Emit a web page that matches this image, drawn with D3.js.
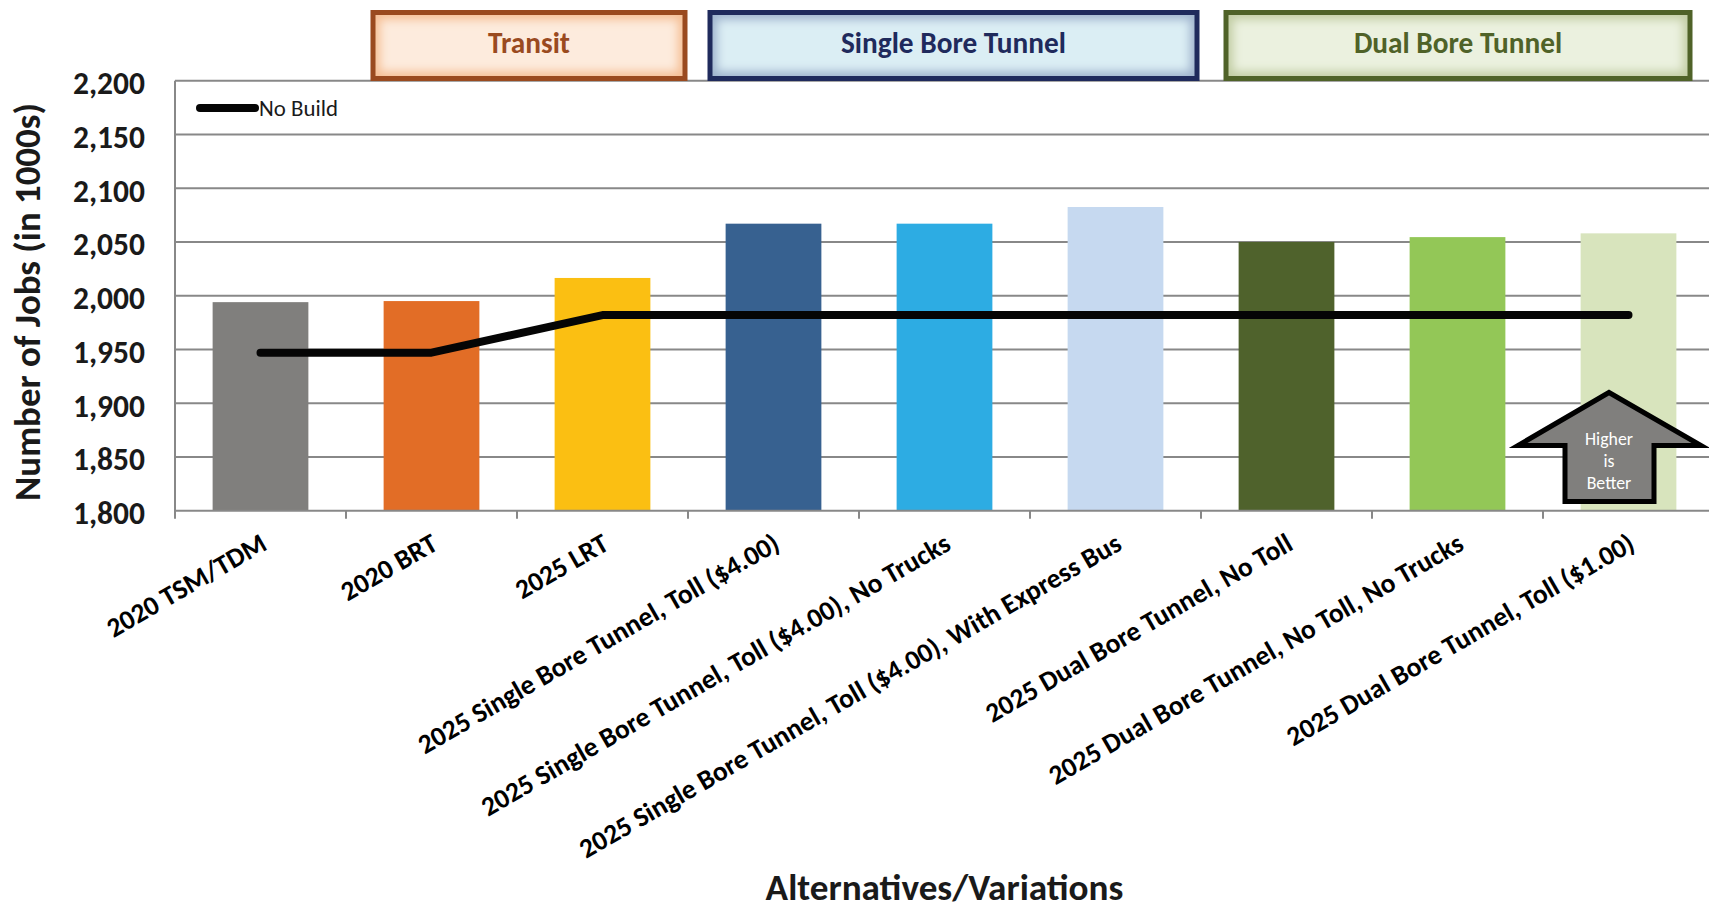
<!DOCTYPE html>
<html>
<head>
<meta charset="utf-8">
<script src="https://cdn.jsdelivr.net/npm/d3@7"></script>
<style>
  html, body { margin: 0; padding: 0; background: #ffffff; }
  svg { display: block; }
</style>
</head>
<body>
<svg id="chart" width="1709" height="911"></svg>
<script>
// ---- data ----
const categories = [
  "2020 TSM/TDM",
  "2020 BRT",
  "2025 LRT",
  "2025 Single Bore Tunnel, Toll ($4.00)",
  "2025 Single Bore Tunnel, Toll ($4.00), No Trucks",
  "2025 Single Bore Tunnel, Toll ($4.00), With Express Bus",
  "2025 Dual Bore Tunnel, No Toll",
  "2025 Dual Bore Tunnel, No Toll, No Trucks",
  "2025 Dual Bore Tunnel, Toll ($1.00)"
];
const jobs = [1994, 1995, 2016.5, 2067, 2067, 2082.5, 2050, 2054.5, 2058];
const noBuild = [1947, 1947, 1982, 1982, 1982, 1982, 1982, 1982, 1982];
const barColors = ["#807f7d", "#e26d26", "#fbbf12", "#376190", "#2dace3",
                   "#c6d9f0", "#4f622c", "#93c757", "#d8e4bd"];
const yTicks = [1800, 1850, 1900, 1950, 2000, 2050, 2100, 2150, 2200];
const groups = [
  { name: "Transit", x0: 373, x1: 685, border: "#9a4a1f", edge: "#f5bf95", fill: "#fdebdd", text: "#9a4a1f" },
  { name: "Single Bore Tunnel", x0: 710, x1: 1197, border: "#1f2a5c", edge: "#9fb3cd", fill: "#dbeef4", text: "#1f2a5c" },
  { name: "Dual Bore Tunnel", x0: 1226, x1: 1690, border: "#4f6228", edge: "#c2cda4", fill: "#ebf1df", text: "#4f6228" }
];

// ---- layout ----
const FONT = "Carlito, Calibri, Lato, 'Liberation Sans', sans-serif";
const plot = { left: 175, right: 1714, top: 80.7, bottom: 510.7 };
const svg = d3.select("#chart");

// font size that gives a string a wanted width
function sizeFor(str, width, weight) {
  const probe = svg.append("text")
    .attr("font-family", FONT).attr("font-weight", weight || "bold")
    .attr("font-size", 100).text(str);
  const w = probe.node().getComputedTextLength();
  probe.remove();
  return 100 * width / w;
}

const x = d3.scaleBand().domain(categories)
  .range([plot.left, plot.right]).paddingInner(0.44).paddingOuter(0.22);
const y = d3.scaleLinear().domain([1800, 2200]).range([plot.bottom, plot.top]);
const step = x.step();
const boundary = i => plot.left + i * step;
const cx = d => x(d) + x.bandwidth() / 2;

// gridlines
svg.append("g").selectAll("line").data(yTicks.slice(1)).join("line")
  .attr("x1", plot.left).attr("x2", plot.right)
  .attr("y1", d => y(d)).attr("y2", d => y(d))
  .attr("stroke", "#888888").attr("stroke-width", 2);

// bars
svg.append("g").selectAll("rect").data(categories).join("rect")
  .attr("x", d => x(d)).attr("width", x.bandwidth())
  .attr("y", (d, i) => y(jobs[i]))
  .attr("height", (d, i) => y(1800) - y(jobs[i]))
  .attr("fill", (d, i) => barColors[i]);

// axes lines
svg.append("line").attr("x1", plot.left).attr("x2", plot.left)
  .attr("y1", plot.top).attr("y2", plot.bottom + 1)
  .attr("stroke", "#888888").attr("stroke-width", 2);
svg.append("line").attr("x1", plot.left - 1).attr("x2", plot.right)
  .attr("y1", plot.bottom).attr("y2", plot.bottom)
  .attr("stroke", "#888888").attr("stroke-width", 2);
svg.append("g").selectAll("line").data(d3.range(categories.length + 1)).join("line")
  .attr("x1", i => boundary(i)).attr("x2", i => boundary(i))
  .attr("y1", plot.bottom).attr("y2", plot.bottom + 8)
  .attr("stroke", "#888888").attr("stroke-width", 2);

// y tick labels
const yTickSize = sizeFor("2,200", 72);
svg.append("g").selectAll("text").data(yTicks).join("text")
  .attr("x", 145).attr("y", d => y(d) + 2.5)
  .attr("dy", "0.35em")
  .attr("text-anchor", "end")
  .attr("font-family", FONT).attr("font-weight", "bold")
  .attr("font-size", yTickSize).attr("fill", "#1a1a1a")
  .text(d => d3.format(",")(d));

// x category labels
const xLabSize = sizeFor(categories[3], 412);
svg.append("g").selectAll("text").data(categories).join("text")
  .attr("transform", d => `translate(${cx(d) + 8},${plot.bottom + 38}) rotate(-30)`)
  .attr("text-anchor", "end")
  .attr("font-family", FONT).attr("font-weight", "bold")
  .attr("font-size", xLabSize).attr("fill", "#000000")
  .text(d => d);

// axis titles
svg.append("text")
  .attr("transform", "translate(40,302) rotate(-90)")
  .attr("text-anchor", "middle")
  .attr("font-family", FONT).attr("font-weight", "bold")
  .attr("font-size", sizeFor("Number of Jobs (in 1000s)", 398))
  .attr("fill", "#1a1a1a")
  .text("Number of Jobs (in 1000s)");
svg.append("text")
  .attr("x", (plot.left + plot.right) / 2).attr("y", 900)
  .attr("text-anchor", "middle")
  .attr("font-family", FONT).attr("font-weight", "bold")
  .attr("font-size", sizeFor("Alternatives/Variations", 358))
  .attr("fill", "#1a1a1a")
  .text("Alternatives/Variations");

// No Build line
const line = d3.line().x((d, i) => cx(categories[i])).y(d => y(d));
svg.append("path").datum(noBuild)
  .attr("d", line).attr("fill", "none")
  .attr("stroke", "#050505").attr("stroke-width", 8)
  .attr("stroke-linecap", "round").attr("stroke-linejoin", "round");

// legend
svg.append("line").attr("x1", 200).attr("x2", 255).attr("y1", 108).attr("y2", 108)
  .attr("stroke", "#050505").attr("stroke-width", 8).attr("stroke-linecap", "round");
svg.append("text").attr("x", 259).attr("y", 108).attr("dy", "0.35em")
  .attr("font-family", FONT).attr("font-weight", "normal")
  .attr("font-size", sizeFor("No Build", 79, "normal")).attr("fill", "#1a1a1a")
  .text("No Build");

// group header boxes with a soft inner glow
const defs = svg.append("defs");
defs.append("filter").attr("id", "soft").attr("x", "-20%").attr("y", "-50%")
  .attr("width", "140%").attr("height", "200%")
  .append("feGaussianBlur").attr("stdDeviation", 5);
const boxTop = 12.5, boxH = 66;
const boxTextSize = sizeFor("Single Bore Tunnel", 225);
groups.forEach((g, i) => {
  const w = g.x1 - g.x0;
  defs.append("clipPath").attr("id", "clip" + i)
    .append("rect").attr("x", g.x0).attr("y", boxTop).attr("width", w).attr("height", boxH);
  const gg = svg.append("g");
  gg.append("rect").attr("x", g.x0).attr("y", boxTop).attr("width", w).attr("height", boxH)
    .attr("fill", g.edge);
  gg.append("g").attr("clip-path", `url(#clip${i})`)
    .append("rect").attr("x", g.x0 + 7).attr("y", boxTop + 7)
    .attr("width", w - 14).attr("height", boxH - 14)
    .attr("fill", g.fill).attr("filter", "url(#soft)");
  gg.append("rect").attr("x", g.x0).attr("y", boxTop).attr("width", w).attr("height", boxH)
    .attr("fill", "none").attr("stroke", g.border).attr("stroke-width", 5);
  gg.append("text").attr("x", (g.x0 + g.x1) / 2).attr("y", 53)
    .attr("text-anchor", "middle")
    .attr("font-family", FONT).attr("font-weight", "bold")
    .attr("font-size", boxTextSize).attr("fill", g.text)
    .text(g.name);
});

// "Higher is Better" arrow
const arrowPts = [[1609, 392.5], [1701, 445.5], [1654, 445.5], [1654, 501.5],
                  [1565, 501.5], [1565, 445.5], [1518, 445.5]];
svg.append("polygon")
  .attr("points", arrowPts.map(p => p.join(",")).join(" "))
  .attr("fill", "#807f7d").attr("stroke", "#000000").attr("stroke-width", 5)
  .attr("stroke-linejoin", "miter");
const arrowText = svg.append("text").attr("text-anchor", "middle")
  .attr("font-family", FONT).attr("font-size", sizeFor("Higher", 48, "normal"))
  .attr("fill", "#ffffff");
[["Higher", 445], ["is", 467], ["Better", 489]].forEach(([t, yy]) => {
  arrowText.append("tspan").attr("x", 1609).attr("y", yy).text(t);
});
</script>
</body>
</html>
